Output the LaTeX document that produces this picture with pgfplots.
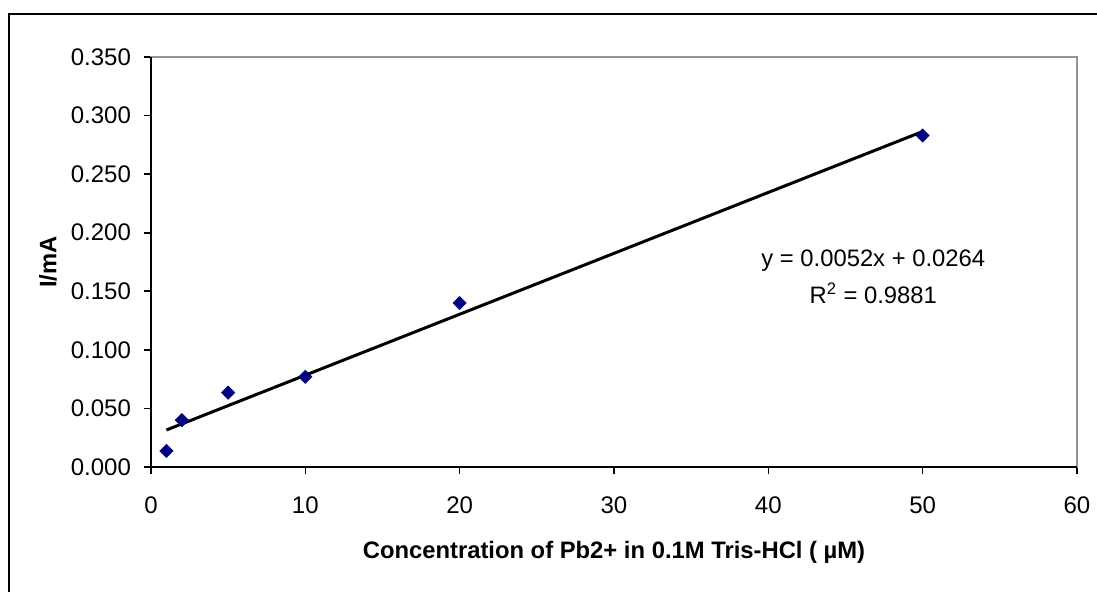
\documentclass[border=0pt]{standalone}
\usepackage{fontspec}
\setmainfont{Liberation Sans}
\usepackage{pgfplots}
\pgfplotsset{compat=1.18}
\definecolor{navyblue}{RGB}{0,0,128}
\begin{document}
\begin{tikzpicture}
\path[use as bounding box] (0pt,0pt) rectangle (548.5pt,295.5pt);
\draw[line width=1.3pt] (4.5pt,-20pt) -- (4.5pt,288.5pt) -- (570pt,288.5pt);
\begin{axis}[
  at={(75.5pt,62pt)}, anchor=south west,
  scale only axis, width=463pt, height=205pt,
  xmin=0, xmax=60, ymin=0, ymax=0.35,
  xtick={0,10,20,30,40,50,60},
  ytick={0,0.05,0.1,0.15,0.2,0.25,0.3,0.35},
  tick align=outside, major tick length=3.5pt,
  xtick pos=bottom, ytick pos=left,
  axis line style={draw=gray!85, line width=0.8pt},
  tick style={black, line width=0.8pt},
  /pgf/number format/assume math mode=true,
  ticklabel style={font=\fontsize{12}{14}\selectfont},
  yticklabel style={/pgf/number format/.cd, fixed, fixed zerofill, precision=3, /tikz/.cd, xshift=-3pt},
  xticklabel style={yshift=-8pt},
  xlabel={Concentration of Pb2+ in 0.1M Tris-HCl ( µM)},
  ylabel={I/mA},
  label style={font=\bfseries\fontsize{11.9}{14}\selectfont},
  xlabel style={at={(axis description cs:0.5,0)}, anchor=center, yshift=-42.5pt},
  ylabel style={at={([xshift=-51.5pt]axis description cs:0,0.5)}, anchor=center, rotate=0},
  clip=false,
]
\draw[black, line width=0.8pt] (rel axis cs:0,1) -- (rel axis cs:0,0) -- (rel axis cs:1,0);
\addplot[black, line width=1.5pt] coordinates {(1,0.0316) (50,0.2864)};
\addplot[only marks, mark=square*, mark size=2.3pt, mark options={rotate=45, fill=navyblue, draw=navyblue}] coordinates {
(1,0.0137) (2,0.040) (5,0.0635) (10,0.077) (20,0.140) (50,0.283)};
\node[align=center, font=\fontsize{11.9}{18.5}\selectfont] at (axis cs:46.8,0.1627) {y = 0.0052x + 0.0264\\R\textsuperscript{2} = 0.9881};
\end{axis}
\end{tikzpicture}
\end{document}
